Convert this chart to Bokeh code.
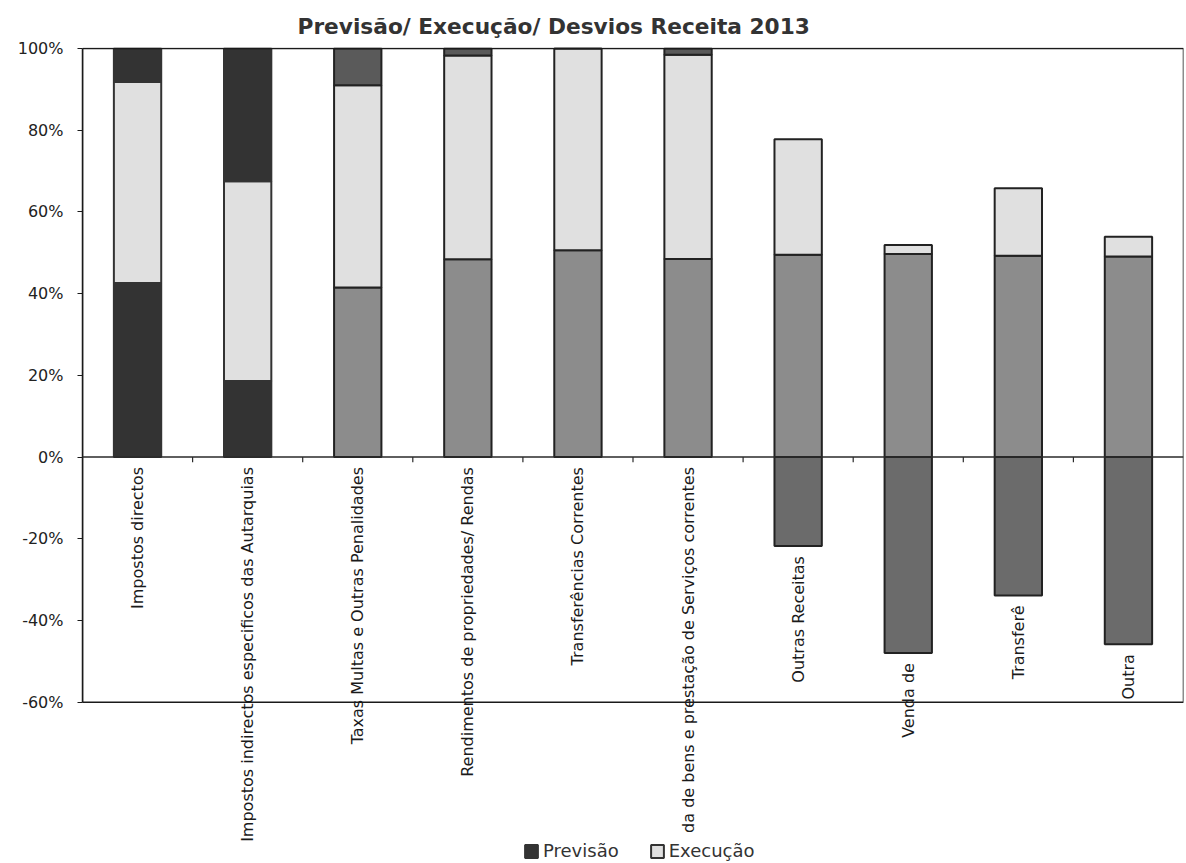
import math

from bokeh.core.properties import value
from bokeh.embed import file_html
from bokeh.models import (BoxAnnotation, ColumnDataSource, FixedTicker,
                          LabelSet, Legend, LegendItem, PrintfTickFormatter,
                          Range1d, Span)
from bokeh.plotting import figure
from bokeh.resources import INLINE

# Revenue headings (as printed on the category axis)
categories = [
    "Impostos directos",
    "Impostos indirectos especificos das Autarquias",
    "Taxas Multas e Outras Penalidades",
    "Rendimentos de propriedades/ Rendas",
    "Transferências Correntes",
    "da de bens e prestação de Serviços correntes",
    "Outras Receitas",
    "Venda de",
    "Transferê",
    "Outra",
]

# Shares in percent
previsao = [42.6, 18.6, 41.5, 48.4, 50.6, 48.5, 49.5, 49.7, 49.3, 49.1]
execucao = [49.2, 48.9, 49.5, 49.9, 49.4, 50.0, 28.3, 2.2, 16.5, 4.8]
desvios = [8.2, 32.5, 9.0, 1.7, 0.0, 1.5, -21.8, -48.0, -33.9, -45.8]

y_ticks = [-60, -40, -20, 0, 20, 40, 60, 80, 100]

# Grey tones per bar segment
base_colors = ["#333333", "#333333"] + ["#8c8c8c"] * 8
exec_colors = ["#e0e0e0"] * 10
dev_colors = ["#333333", "#333333"] + ["#5a5a5a"] * 4 + ["#6b6b6b"] * 4
outline_colors = ["#333333", "#333333"] + ["#222222"] * 8

# Stack the segments
base_bottom = [0.0] * len(categories)
base_top = previsao
exec_bottom = previsao
exec_top = [p + e for p, e in zip(previsao, execucao)]
dev_bottom = [t if d >= 0 else 0.0 for t, d in zip(exec_top, desvios)]
dev_top = [t + d if d >= 0 else d for t, d in zip(exec_top, desvios)]

# The drawing area runs down to the page bottom so that the long category
# names and the legend can hang below the -60% line.
p = figure(
    x_range=categories,
    y_range=Range1d(-99.5, 100.25),
    width=1186,
    height=863,
    output_backend="svg",
    toolbar_location=None,
    min_border_left=82,
    min_border_right=3,
    min_border_top=47,
    min_border_bottom=0,
    background_fill_color="white",
    border_fill_color="white",
)

p.title.text = "Previsão/ Execução/ Desvios Receita 2013"
p.title.text_font = "DejaVu Sans"
p.title.text_font_size = "21.7px"
p.title.text_font_style = "bold"
p.title.text_color = "#333333"
p.title.align = "left"
p.title.offset = 215
p.title.standoff = 18

p.xgrid.visible = False
p.ygrid.visible = False
p.xaxis.visible = False
p.outline_line_color = None

p.yaxis.bounds = (y_ticks[0], y_ticks[-1])
p.yaxis.ticker = FixedTicker(ticks=y_ticks)
p.yaxis.formatter = PrintfTickFormatter(format="%d%%")
p.yaxis.major_label_text_font = "DejaVu Sans"
p.yaxis.major_label_text_font_size = "16px"
p.yaxis.major_label_text_color = "#222222"
p.yaxis.major_label_standoff = 14
p.yaxis.major_tick_out = 5
p.yaxis.major_tick_in = 0
p.yaxis.minor_tick_out = 0
p.yaxis.minor_tick_in = 0
p.yaxis.axis_line_color = "#1a1a1a"
p.yaxis.axis_line_width = 1.5
p.yaxis.major_tick_line_color = "#1a1a1a"

# Plot-area border between -60% and 100%
p.add_layout(BoxAnnotation(bottom=y_ticks[0], top=y_ticks[-1],
                           fill_alpha=0, line_color="#1a1a1a",
                           line_alpha=1.0, line_width=1.5))

src = ColumnDataSource(dict(
    x=categories,
    base_bottom=base_bottom, base_top=base_top,
    exec_bottom=exec_bottom, exec_top=exec_top,
    dev_bottom=dev_bottom, dev_top=dev_top,
    base_color=base_colors, exec_color=exec_colors, dev_color=dev_colors,
    outline=outline_colors,
))

bar_w = 0.43
r_base = p.vbar(x="x", bottom="base_bottom", top="base_top", width=bar_w,
                source=src, fill_color="base_color", line_color="outline",
                line_width=2)
r_exec = p.vbar(x="x", bottom="exec_bottom", top="exec_top", width=bar_w,
                source=src, fill_color="exec_color", line_color="outline",
                line_width=2)
p.vbar(x="x", bottom="dev_bottom", top="dev_top", width=bar_w, source=src,
       fill_color="dev_color", line_color="outline", line_width=2)

# Category axis drawn along the zero line
p.add_layout(Span(location=0, dimension="width", line_color="#2a2a2a",
                  line_width=1.5))
bounds = list(range(1, len(categories)))
p.segment(x0=bounds, x1=bounds, y0=[0] * len(bounds), y1=[-1.3] * len(bounds),
          line_color="#2a2a2a", line_width=1.2)

label_src = ColumnDataSource(dict(
    x=categories,
    y=[min(0.0, d) for d in desvios],
    text=categories,
))
p.add_layout(LabelSet(
    x="x", y="y", text="text", source=label_src,
    angle=math.pi / 2, text_align="right", text_baseline="middle",
    y_offset=-10, text_font=value("DejaVu Sans"), text_font_size="16px",
    text_color="#1a1a1a",
))

# Legend under the category names
legend = Legend(
    items=[LegendItem(label="Previsão", renderers=[r_base], index=0),
           LegendItem(label="Execução", renderers=[r_exec], index=0)],
    orientation="horizontal",
    location=(441, 2),
    glyph_width=16, glyph_height=16,
    label_standoff=4, spacing=30, padding=0, margin=0,
    label_text_font="DejaVu Sans", label_text_font_size="18px",
    label_text_color="#333333",
    border_line_color=None, background_fill_alpha=0,
)
p.add_layout(legend)

open("out.html", "w").write(file_html(p, INLINE))
